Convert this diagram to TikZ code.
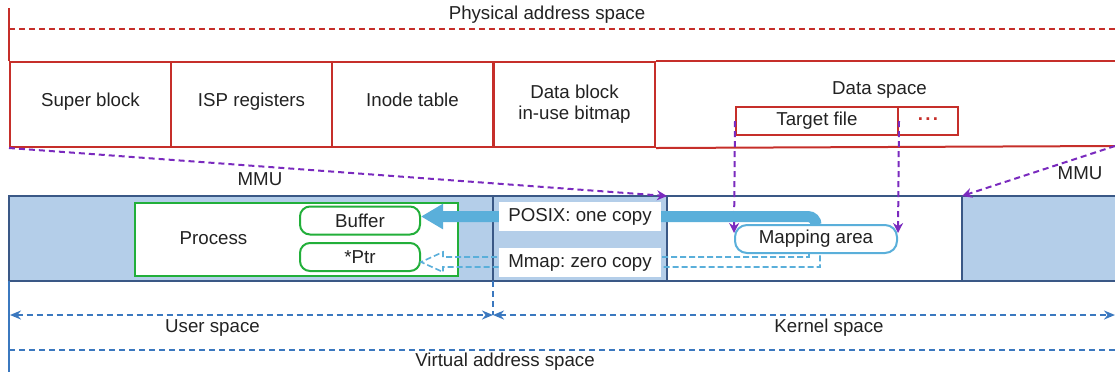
\documentclass[tikz,border=0pt]{standalone}
\usepackage{fontspec}
\setmainfont{Liberation Sans}
\usetikzlibrary{arrows.meta,calc}
\frenchspacing
\definecolor{pred}{HTML}{C62F2A}
\definecolor{navy}{HTML}{3A5886}
\definecolor{bandfill}{HTML}{B4CEE9}
\definecolor{lblue}{HTML}{5AAFDA}
\definecolor{pgreen}{HTML}{22AF3A}
\definecolor{purp}{HTML}{7A2ABE}
\definecolor{vblue}{HTML}{3B78BF}
\definecolor{txt}{HTML}{222222}
\begin{document}
\begin{tikzpicture}[x=0.5pt,y=-0.5pt,
  font=\fontsize{9.35}{11}\selectfont\frenchspacing, text=txt,
  redln/.style={draw=pred,line width=1pt},
  cell/.style={redln, anchor=north west, minimum width=80.5pt, minimum height=42.5pt, inner sep=0pt, align=center},
  cell1/.style={cell, text height=6.7pt, text depth=5pt},
  mmu/.style={draw=purp, line width=1pt, dash pattern=on 3pt off 2pt, -{Stealth[length=5pt,width=5pt]}},
  gbox/.style={draw=pgreen, line width=1pt, rounded corners=5pt, minimum width=60pt, minimum height=14pt, inner sep=0pt, fill=white},
  vdash/.style={draw=vblue, line width=1pt, dash pattern=on 3pt off 2pt},
  vtip/.tip={Stealth[length=5.5pt,width=4.5pt]},
  tag/.style={fill=white, minimum width=81pt, minimum height=14.5pt, inner sep=0pt},
]
\useasboundingbox (0,0) rectangle (1115,372);

% ---------- physical address space ----------
\node (phys) at (547,15) {Physical address space};
\node[cell1] (sb) at (9,61) {Super block};
\node[cell1] (isp) at (170,61) {ISP registers};
\node[cell1] (inode) at (331,61) {Inode table};
\node[cell, font=\fontsize{9.35}{10.5}\selectfont] (bitmap) at (493,61) {Data block\\in-use bitmap};
\coordinate (pl) at (9,8);
\coordinate (pdl) at (9,29);
\coordinate (pdr) at (1115,29);
\coordinate (ptr1) at (1115,61);
\coordinate (phr) at (1115,146);
\draw[redln] (pl) -- (sb.north west);
\draw[redln, dash pattern=on 3pt off 2pt] (pdl) -- (pdr);
\draw[redln] (bitmap.north east) -- (ptr1);
\draw[redln] (bitmap.south east) -- (phr);
\node (ds) at (879.5,90) {Data space};
\node[redln, anchor=north west, minimum width=81pt, minimum height=14pt, inner sep=0pt] (tf) at (735,106) {Target file};
\node[redln, anchor=north west, minimum width=30pt, minimum height=14pt, inner sep=0pt] (dots) at (897,106) {\textcolor{pred}{\raisebox{2.3pt}{\textbf{.\kern1.2pt.\kern1.2pt.}}}};

% ---------- virtual band ----------
\fill[bandfill] (9,196) rectangle (667,281);
\fill[bandfill] (962,196) rectangle (1115,281);
\coordinate (k0) at (493,196);
\coordinate (k1) at (667,196);
\coordinate (k2) at (962,196);
\coordinate (b0) at (493,281);
\draw[navy, line width=1pt] (1115,196) -- (9,196) -- (9,281) -- (1115,281);
\draw[navy, line width=1pt] (k0) -- (b0) (k1) -- (667,281) (k2) -- (962,281);

\node[draw=pgreen, line width=1pt, fill=white, anchor=north west, minimum width=161.5pt, minimum height=36.5pt, inner sep=0pt] (proc) at (134,202) {};
\node (proct) at (213.5,238) {Process};
\node[gbox] (buf) at (360,220.5) {Buffer};
\node[gbox] (ptr) at (360,257) {*Ptr};
\node[draw=lblue, line width=1pt, rounded corners=6pt, fill=white, minimum width=81pt, minimum height=14pt, inner sep=0pt] (map) at (816,239) {Mapping area};

% MMU / mapping arrows
\node (mmu1) at (260,179) {MMU};
\node (mmu2) at (1080,173) {MMU};
\draw[mmu] (sb.south west) -- (k1);
\draw[mmu] (phr) -- (k2);
\draw[mmu] (tf.west) -- ($(map.west)+(0,-6)$);
\draw[mmu] (tf.east) -- ($(map.east)+(0,-6)$);

% POSIX copy arrow
\draw[lblue, line width=5.5pt, rounded corners=4pt, -{Triangle[length=11pt,width=12pt]}] (map.north) |- ([yshift=2pt]buf.east);

% mmap hollow dashed arrow
\coordinate (mt) at ($(ptr.east)+(0,5)$);
\draw[lblue, line width=0.8pt, dash pattern=on 3pt off 1.5pt]
  ($(map.south)+(-7,0)$) |- ($(mt)+(22,-5)$) -- ++(0,-5) -- (mt) -- ($(mt)+(22,10)$) -- ++(0,-5) -| ($(map.south)+(4,0)$);

\node[tag] (posix) at (580,216.5) {POSIX: one copy};
\node[tag] (mmapl) at (580,262.5) {Mmap: zero copy};

% ---------- user / kernel / virtual ----------
\coordinate (vl0) at (9,281);
\coordinate (vl1) at (9,372);
\coordinate (us) at (10,315);
\coordinate (mid) at (493,315);
\coordinate (ke) at (1115,315);
\coordinate (vd0) at (9,350);
\coordinate (vd1) at (1115,350);
\draw[vblue, line width=1pt] (vl0) -- (vl1);
\draw[vdash] (b0) -- (mid);
\draw[vdash, vtip-vtip] (us) -- (mid);
\draw[vdash, vtip-vtip] (mid) -- (ke);
\draw[vdash] (vd0) -- (vd1);
\node (user) at (212.5,328) {User space};
\node (kern) at (829,328) {Kernel space};
\node (virt) at (505,362) {Virtual address space};
\end{tikzpicture}
\end{document}
